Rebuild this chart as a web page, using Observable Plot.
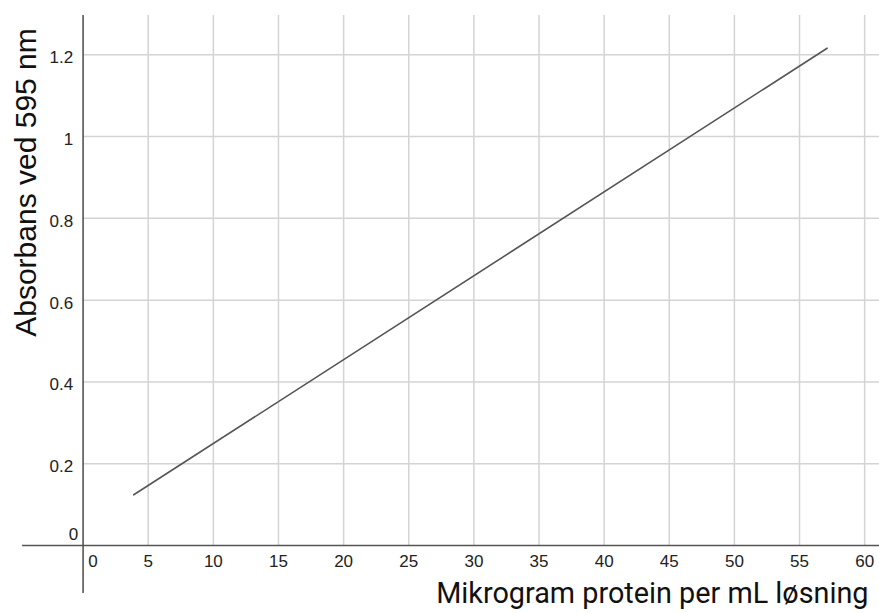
<!DOCTYPE html>
<html>
<head>
<meta charset="utf-8">
<script src="https://cdn.jsdelivr.net/npm/d3@7"></script>
<script src="https://cdn.jsdelivr.net/npm/@observablehq/plot@0.6"></script>
<style>
  html, body { margin: 0; padding: 0; background: #fff; }
  #chart svg { display: block; }
</style>
</head>
<body>
<div id="chart"></div>
<script>
// Data
const lineX = [3.89, 57.12];      // µg protein per mL
const lineY = [0.124, 1.216];     // absorbance at 595 nm
const xTicks = [0, 5, 10, 15, 20, 25, 30, 35, 40, 45, 50, 55, 60];
const yTicks = [0.2, 0.4, 0.6, 0.8, 1, 1.2];
const xTitle = "Mikrogram protein per mL løsning";
const yTitle = "Absorbans ved 595 nm";

const xDomain = [-6.341, 61.14];
const yDomain = [-0.1663, 1.3328];
const gridTop = 1.296;
const xAxisLeft = -4.65;
const yAxisBottom = -0.1174;

const lineData = lineX.map((x, i) => ({x, y: lineY[i]}));
const xGrid = xTicks.filter(d => d !== 0);
const xLabelsNonZero = xTicks.filter(d => d !== 0);

const chart = Plot.plot({
  width: 879,
  height: 613,
  marginTop: 0, marginBottom: 0, marginLeft: 0, marginRight: 0,
  x: {domain: xDomain, axis: null},
  y: {domain: yDomain, axis: null},
  style: {fontFamily: "Liberation Sans, Arial, sans-serif", background: "#fff"},
  marks: [
    // vertical grid
    Plot.ruleX(xGrid, {x: d => d, y1: 0, y2: gridTop, stroke: "#d4d4d4", strokeWidth: 1.5}),
    // horizontal grid
    Plot.ruleY(yTicks, {y: d => d, x1: 0, x2: xDomain[1], stroke: "#d4d4d4", strokeWidth: 1.5}),
    // axes
    Plot.ruleY([0], {x1: xAxisLeft, x2: xDomain[1], stroke: "#555", strokeWidth: 1.6}),
    Plot.ruleX([0], {y1: yAxisBottom, y2: gridTop, stroke: "#555", strokeWidth: 1.6}),
    // calibration line
    Plot.line(lineData, {x: "x", y: "y", stroke: "#555", strokeWidth: 1.6}),
    // x tick labels
    Plot.text(xLabelsNonZero, {x: d => d, y: 0, text: d => String(d), dy: 16, fontSize: 17, fill: "#222", textAnchor: "middle"}),
    Plot.text([0], {x: 0, y: 0, text: d => "0", dx: 10, dy: 16, fontSize: 17, fill: "#222", textAnchor: "middle"}),
    // y tick labels
    Plot.text(yTicks, {x: 0, y: d => d, text: d => String(d), dx: -10, dy: 3, fontSize: 17, fill: "#222", textAnchor: "end"}),
    Plot.text([0], {x: 0, y: 0, text: d => "0", dx: -5, dy: -11, fontSize: 17, fill: "#222", textAnchor: "end"}),
    // axis titles
    Plot.text([xTitle], {frameAnchor: "bottom-right", text: d => d, dx: -11, dy: -11, fontSize: 28.8, fill: "#111", fontFamily: "Roboto, sans-serif", textAnchor: "end"}),
    Plot.text([yTitle], {frameAnchor: "top-left", text: d => d, rotate: -90, dx: 14, dy: 182, fontSize: 30, fill: "#111", textAnchor: "middle"})
  ]
});
document.getElementById("chart").appendChild(chart);
</script>
</body>
</html>
